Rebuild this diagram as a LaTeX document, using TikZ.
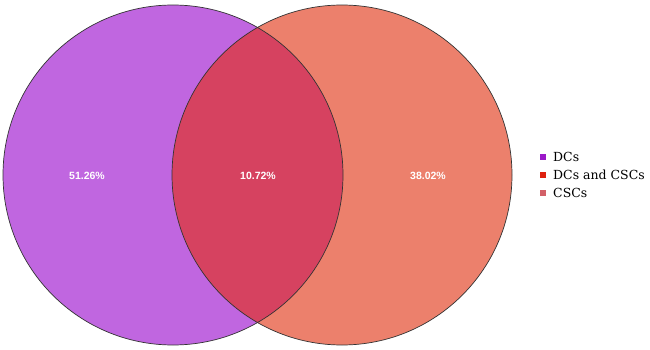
\documentclass[tikz,border=0pt]{standalone}
\usepackage{fontspec}
\setmainfont{DejaVu Serif}
\newfontfamily\labfont{Liberation Sans}
\begin{document}
\begin{tikzpicture}[x=1pt,y=-1pt,
  pct/.style={font=\labfont\bfseries\fontsize{10.5}{12}\selectfont, text=white},
  legtext/.style={font=\fontsize{12.5}{14}\selectfont, anchor=west, inner sep=0pt},
  legsq/.style={minimum size=6pt, inner sep=0pt}]
\useasboundingbox (0,0) rectangle (650,350);
\definecolor{leftc}{RGB}{192,102,224}
\definecolor{rightc}{RGB}{236,128,108}
\definecolor{midc}{RGB}{214,66,96}
\definecolor{sqa}{RGB}{155,25,200}
\definecolor{sqb}{RGB}{222,34,16}
\definecolor{sqc}{RGB}{210,96,104}
\fill[leftc] (173,175) circle (170);
\fill[rightc] (342,175) circle (170);
\begin{scope}
  \clip (173,175) circle (170);
  \fill[midc] (342,175) circle (170);
\end{scope}
\draw[black!80, line width=0.7pt] (173,175) circle (170);
\draw[black!80, line width=0.7pt] (342,175) circle (170);
\node[pct] (a) at (87,176) {51.26\%};
\node[pct] (b) at (258,176) {10.72\%};
\node[pct] (c) at (428,176) {38.02\%};
\node[legsq, fill=sqa] (s1) at (543,157) {};
\node[legsq, fill=sqb] (s2) at (543,175) {};
\node[legsq, fill=sqc] (s3) at (543,193) {};
\node[legtext] (t1) at (553,157) {DCs};
\node[legtext] (t2) at (553,175) {DCs and CSCs};
\node[legtext] (t3) at (553,193) {CSCs};
\end{tikzpicture}
\end{document}
